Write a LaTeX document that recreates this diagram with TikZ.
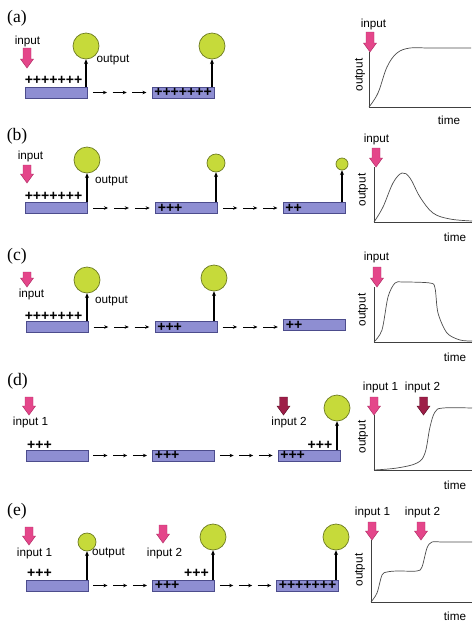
\documentclass[tikz,border=0pt]{standalone}
\usepackage{fontspec}
\setmainfont{Liberation Serif}
\setsansfont{Liberation Sans}
\usetikzlibrary{calc,arrows.meta}

\definecolor{barblue}{HTML}{8E8ED2}
\definecolor{baredge}{HTML}{4C4C8C}
\definecolor{ballgreen}{HTML}{C6DA3A}
\definecolor{balledge}{HTML}{6E7C22}
\definecolor{inpink}{HTML}{E4468A}
\definecolor{inpinkedge}{HTML}{B02E66}
\definecolor{indark}{HTML}{9E1E48}
\definecolor{indarkedge}{HTML}{5E0E28}

\tikzset{
  bar/.style={draw=baredge, fill=barblue, line width=0.6pt, minimum height=0.33cm,
    text width=49pt, inner xsep=2pt, inner ysep=0pt, align=left,
    font=\sffamily\bfseries\fontsize{12}{12}\selectfont},
  ball/.style={circle, draw=balledge, fill=ballgreen, line width=0.6pt, inner sep=0pt, minimum size=#1},
  ball/.default=0.78cm,
  pluses/.style={font=\sffamily\bfseries\fontsize{12}{12}\selectfont, inner sep=0pt},
  lbl/.style={font=\sffamily\fontsize{10}{12}\selectfont, inner sep=0pt},
  panel/.style={font=\fontsize{15}{15}\selectfont, inner sep=0pt},
  outarrow/.style={-{Stealth[length=4pt,width=3.5pt]}, line width=0.9pt},
  chainarrow/.style={-{Stealth[length=3.5pt,width=3pt]}, line width=0.8pt},
  pinkin/.style={draw=inpinkedge, fill=inpink, line width=0.4pt},
  darkin/.style={draw=indarkedge, fill=indark, line width=0.4pt},
  axis/.style={line width=0.7pt, draw=black!75},
  resp/.style={line width=0.6pt, draw=black!70},
  pics/inarrow/.style={code={
    \path[pic actions] (-4,0) -- (4,0) -- (4,#1-9) -- (6.5,#1-9) -- (0,#1)
      -- (-6.5,#1-9) -- (-4,#1-9) -- cycle;}},
}

% three short arrows between two bars
\newcommand\chain[2]{%
  \foreach \s/\e in {0.08/0.3,0.39/0.61,0.7/0.92}
    \draw[chainarrow] ($(#1.east)!\s!(#1.east -| #2.west)$) -- ($(#1.east)!\e!(#1.east -| #2.west)$);}

\begin{document}
\begin{tikzpicture}[x=0.03cm, y=-0.03cm]
  \useasboundingbox (0,0) rectangle (474,630);

  % (a)
  \node[panel] (la) at (17,18.5) {(a)};
  \node[lbl] (ia) at (27.5,41) {input};
  \pic[pinkin] at (27,48) {inarrow=20};
  \node[pluses] (pa) at (53.5,80) {+++++++};
  \node[bar] (a1) at (56.5,92.5) {};
  \node[bar] (a2) at (183,92.5) {+++++++};
  \node[ball] (ca1) at (86,46) {};
  \node[ball] (ca2) at (212,46) {};
  \node[lbl] (oa) at (113,60) {output};
  \draw[outarrow] (ca1.south |- a1.north) -- (ca1.south);
  \draw[outarrow] (ca2.south |- a2.north) -- (ca2.south);
  \chain{a1}{a2}
  \node[lbl] (ga) at (373.5,24) {input};
  \pic[pinkin] at (370,32) {inarrow=20};
  \draw[axis] (369,52) -- (369,107) -- (471,107);
  \node[lbl, rotate=90] (ya) at (360,75) {output};
  \node[lbl] (ta) at (449,120) {time};
  \draw[resp] plot[smooth, tension=0.6] coordinates
    {(369,107) (378,93) (387,67) (397,53) (410,48) (430,48) (471,48)};

  % (b)
  \node[panel] (lb) at (17,136) {(b)};
  \node[lbl] (ib) at (30.5,156) {input};
  \pic[pinkin] at (27,165) {inarrow=18};
  \node[pluses] (pb) at (53.5,196) {+++++++};
  \node[bar] (b1) at (56.5,208) {};
  \node[bar] (b2) at (186.5,208) {+++};
  \node[bar] (b3) at (314,208) {++};
  \node[ball] (cb1) at (87,160) {};
  \node[ball=0.54cm] (cb2) at (216,163) {};
  \node[ball=0.36cm] (cb3) at (342,164) {};
  \node[lbl] (ob) at (111.5,181) {output};
  \draw[outarrow] (cb1.south |- b1.north) -- (cb1.south);
  \draw[outarrow] (cb2.south |- b2.north) -- (cb2.south);
  \draw[outarrow] (cb3.south |- b3.north) -- (cb3.south);
  \chain{b1}{b2}
  \chain{b2}{b3}
  \node[lbl] (gb) at (376.5,139) {input};
  \pic[pinkin] at (376,148) {inarrow=19};
  \draw[axis] (374,167) -- (374,222) -- (472,222);
  \node[lbl, rotate=90] (yb) at (363,190) {output};
  \node[lbl] (tb) at (455,237) {time};
  \draw[resp] plot[smooth, tension=0.6] coordinates
    {(374,222) (383,207) (393,183) (402,173) (410,178) (420,197) (433,213) (450,219) (472,221)};

  % (c)
  \node[panel] (lc) at (17,256) {(c)};
  \pic[pinkin] at (27,272) {inarrow=15};
  \node[lbl] (ic) at (31.5,294) {input};
  \node[pluses] (pc) at (53.5,316) {+++++++};
  \node[bar] (c1) at (57,327) {};
  \node[bar] (c2) at (186,327) {+++};
  \node[bar] (c3) at (314.5,325) {++};
  \node[ball] (cc1) at (87,280) {};
  \node[ball] (cc2) at (214,278) {};
  \node[lbl] (oc) at (111.5,301) {output};
  \draw[outarrow] (cc1.south |- c1.north) -- (cc1.south);
  \draw[outarrow] (cc2.south |- c2.north) -- (cc2.south);
  \chain{c1}{c2}
  \chain{c2}{c3}
  \node[lbl] (gc) at (376.5,257.5) {input};
  \pic[pinkin] at (377,267) {inarrow=20};
  \draw[axis] (374,287) -- (374,342) -- (472,342);
  \node[lbl, rotate=90] (yc) at (363,310) {output};
  \node[lbl] (tc) at (455,357) {time};
  \draw[resp] plot[smooth, tension=0.5] coordinates
    {(374,342) (382,330) (388,297) (395,283) (403,282) (430,283) (435,288) (438,313) (447,333) (460,340) (472,341)};

  % (d)
  \node[panel] (ld) at (17.5,381) {(d)};
  \pic[pinkin] at (29,397) {inarrow=18};
  \node[lbl] (id1) at (30.5,422.5) {input 1};
  \node[pluses] (pd1) at (39.5,445) {+++};
  \node[bar] (d1) at (57,455.5) {};
  \node[bar] (d2) at (183.5,455.5) {+++};
  \node[bar] (d3) at (309,455.5) {+++};
  \node[pluses] (pd3) at (320,445) {+++};
  \pic[darkin] at (283.5,397) {inarrow=18};
  \node[lbl] (id2) at (289,422.5) {input 2};
  \node[ball] (cd) at (337,408) {};
  \draw[outarrow] (cd.south |- d3.north) -- (cd.south);
  \chain{d1}{d2}
  \chain{d2}{d3}
  \node[lbl] (gd1) at (380.5,387.5) {input 1};
  \node[lbl] (gd2) at (422.5,387.5) {input 2};
  \pic[pinkin] at (374,397) {inarrow=18};
  \pic[darkin] at (423.5,397) {inarrow=18};
  \draw[axis] (374,415) -- (374,470) -- (472,470);
  \node[lbl, rotate=90] (yd) at (363,437) {output};
  \node[lbl] (td) at (455,485) {time};
  \draw[resp] plot[smooth, tension=0.6] coordinates
    {(374,470) (397,468) (417,463) (425,453) (430,427) (435,412) (443,408) (472,408)};

  % (e)
  \node[panel] (le) at (17,511) {(e)};
  \pic[pinkin] at (29,527) {inarrow=18};
  \node[lbl] (ie1) at (34.5,553) {input 1};
  \node[pluses] (pe1) at (39.5,573.5) {+++};
  \node[bar] (e1) at (57,585.5) {};
  \node[ball=0.54cm] (ce1) at (87,542) {};
  \node[lbl] (oe) at (108.5,553) {output};
  \pic[pinkin] at (163,525) {inarrow=18};
  \node[lbl] (ie2) at (164.5,553) {input 2};
  \node[pluses] (pe2) at (196.5,573.5) {+++};
  \node[bar] (e2) at (183.5,585.5) {+++};
  \node[ball] (ce2) at (213,537) {};
  \node[bar] (e3) at (307.5,585.5) {+++++++};
  \node[ball] (ce3) at (336,537) {};
  \draw[outarrow] (ce1.south |- e1.north) -- (ce1.south);
  \draw[outarrow] (ce2.south |- e2.north) -- (ce2.south);
  \draw[outarrow] (ce3.south |- e3.north) -- (ce3.south);
  \chain{e1}{e2}
  \chain{e2}{e3}
  \node[lbl] (ge1) at (372.5,512) {input 1};
  \node[lbl] (ge2) at (422.5,512) {input 2};
  \pic[pinkin] at (372,522) {inarrow=18};
  \pic[pinkin] at (421,522) {inarrow=18};
  \draw[axis] (371,540) -- (371,602) -- (472,602);
  \node[lbl, rotate=90] (ye) at (360,570) {output};
  \node[lbl] (te) at (455,616) {time};
  \draw[resp] plot[smooth, tension=0.5] coordinates
    {(371,602) (377,593) (382,575) (387,572) (397,571) (417,571) (422,567) (427,548) (432,542) (443,542) (472,542)};
\end{tikzpicture}
\end{document}
